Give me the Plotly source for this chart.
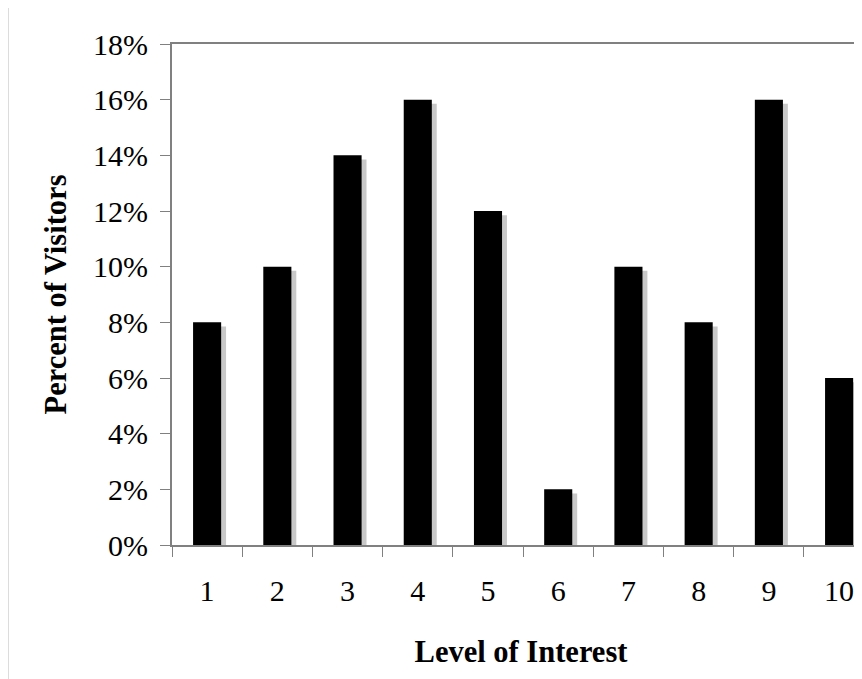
import plotly.graph_objects as go

levels = ["1", "2", "3", "4", "5", "6", "7", "8", "9", "10"]
percent_visitors = [8, 10, 14, 16, 12, 2, 10, 8, 16, 6]
y_ticks = [0, 2, 4, 6, 8, 10, 12, 14, 16, 18]
y_tick_labels = [f"{v}%" for v in y_ticks]

SERIF = "Liberation Serif, Times New Roman, serif"
shadow_drop = 0.15

fig = go.Figure()
fig.add_trace(go.Bar(
    x=levels, y=[v - shadow_drop for v in percent_visitors],
    width=0.4, offset=-0.13, marker=dict(color="#c8c8c8", line=dict(width=0)),
    hoverinfo="skip", showlegend=False,
))
fig.add_trace(go.Bar(
    x=levels, y=percent_visitors,
    width=0.4, offset=-0.2, marker=dict(color="#000000", line=dict(width=0)),
    showlegend=False,
))

fig.update_layout(
    width=862, height=679,
    margin=dict(l=164, r=0, t=36, b=142),
    paper_bgcolor="white", plot_bgcolor="white",
    barmode="overlay",
    font=dict(family=SERIF, color="black", size=30),
    xaxis=dict(
        type="category", range=[-0.5, 9.44],
        tickson="boundaries", ticks="outside", ticklen=10, tickcolor="#808080", tickwidth=1,
        showline=True, linecolor="#808080", linewidth=2, mirror=True,
        showgrid=False, zeroline=False,
        tickfont=dict(family=SERIF, size=30),
        ticklabelstandoff=18,
        title=dict(text="<b>Level of Interest</b>", font=dict(family=SERIF, size=30.5), standoff=35),
    ),
    yaxis=dict(
        range=[0, 18], tickvals=y_ticks, ticktext=y_tick_labels,
        ticks="outside", ticklen=10, tickcolor="#808080", tickwidth=1,
        showline=True, linecolor="#808080", linewidth=2,
        showgrid=False, zeroline=False,
        tickfont=dict(family=SERIF, size=30),
        ticklabelstandoff=6,
        title=dict(text="<b>Percent of Visitors</b>", font=dict(family=SERIF, size=30.5), standoff=17),
    ),
    shapes=[dict(type="line", xref="paper", yref="paper", x0=-0.2342, x1=-0.2342,
                 y0=-0.4, y1=1.1, line=dict(color="#dcdcdc", width=1))],
)

fig.write_html("out.html")
